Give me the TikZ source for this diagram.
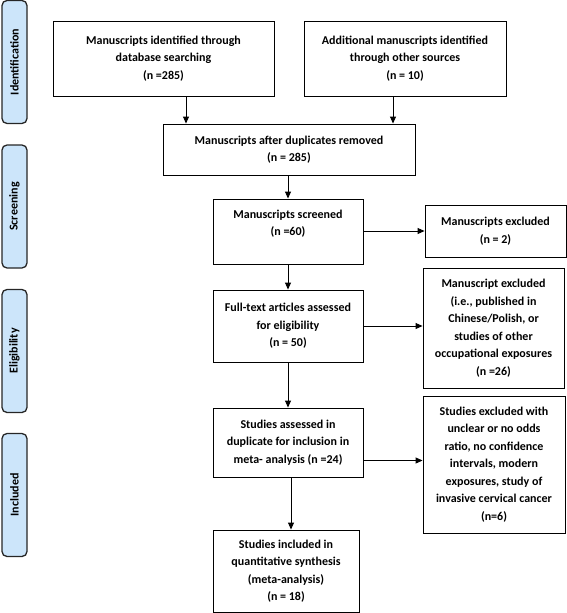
\documentclass[tikz,border=0pt]{standalone}
\usepackage{fontspec}
\setmainfont{Carlito}
\usetikzlibrary{arrows.meta}
\definecolor{phasefill}{HTML}{CCE5FA}

\begin{document}
\begin{tikzpicture}[x=1pt, y=-1pt,
	box/.style={shape=rectangle, draw=black, line width=0.9pt, align=center,
		font=\bfseries\fontsize{12}{17.5}\selectfont, inner sep=2pt},
	phase/.style={shape=rectangle, draw=black!85, fill=phasefill, line width=1.3pt,
		rounded corners=5pt, minimum width=25pt, minimum height=123pt},
	phasetext/.style={rotate=90, font=\bfseries\fontsize{12}{14}\selectfont},
	flow/.style={-{Triangle[length=7pt,width=6pt]}, line width=0.9pt}]
	
	\useasboundingbox (0, 0) rectangle (567, 613);
	
	% phases on the left
	\node[phase] (pid) at (14.5, 62)  {};
	\node[phase] (psc) at (14.5, 206.5) {};
	\node[phase] (pel) at (14.5, 351) {};
	\node[phase] (pin) at (14.5, 495) {};
	\node[phasetext] at (pid) {Identification};
	\node[phasetext] at (psc) {Screening};
	\node[phasetext] at (pel) {Eligibility};
	\node[phasetext] at (pin) {Included};
	
	% boxes
	\node[box, minimum width=221pt, minimum height=75pt] (db)   at (163.5, 58.5) {Manuscripts identified through\\database searching\\(n =285)};
	\node[box, minimum width=202pt, minimum height=75pt] (add)  at (405, 58.5)   {Additional manuscripts identified\\through other sources\\(n = 10)};
	\node[box, minimum width=252pt, minimum height=51pt] (dup)  at (289, 149.5)  {Manuscripts after duplicates removed\\(n = 285)};
	\node[box, minimum width=150pt, minimum height=65pt] (scr)  at (288, 231.5)  {Manuscripts screened\\(n =60)\\\mbox{}};
	\node[box, minimum width=141pt, minimum height=52pt] (exa)  at (495.5, 231)  {Manuscripts excluded\\(n = 2)};
	\node[box, minimum width=150pt, minimum height=72pt] (full) at (288, 326)    {Full-text articles assessed\\for eligibility\\(n = 50)};
	\node[box, minimum width=141pt, minimum height=120pt] (exb) at (493.5, 328)  {Manuscript excluded\\(i.e., published in\\Chinese/Polish, or\\studies of other\\occupational exposures\\(n =26)};
	\node[box, minimum width=150pt, minimum height=69pt] (stud) at (288, 442.5)  {Studies assessed in\\duplicate for inclusion in\\meta- analysis (n =24)};
	\node[box, minimum width=142pt, minimum height=137pt] (exc) at (494, 464.5)  {Studies excluded with\\unclear or no odds\\ratio, no confidence\\intervals, modern\\exposures, study of\\invasive cervical cancer\\(n=6)};
	\node[box, minimum width=146pt, minimum height=82pt] (incl) at (286, 571)    {Studies included in\\quantitative synthesis\\(meta-analysis)\\(n = 18)};
	
	% arrows
	\path[flow] ([xshift=22.5pt]db.south) edge ([xshift=22.5pt]db.south |- dup.north);
	\path[flow] ([xshift=-12pt]add.south) edge ([xshift=-12pt]add.south |- dup.north);
	\path[flow] (scr |- dup.south) edge (scr.north);
	\path[flow] (scr.south) edge (full.north);
	\path[flow] (full.south) edge (stud.north);
	\path[flow] ([xshift=3pt]stud.south) edge ([xshift=3pt]stud.south |- incl.north);
	\path[flow] (scr.east |- exa) edge (exa.west);
	\path[flow] (full.east) edge (full.east -| exb.west);
	\path[flow] ([yshift=-18pt]stud.east) edge ([yshift=-18pt]stud.east -| exc.west);
	
\end{tikzpicture}
\end{document}
